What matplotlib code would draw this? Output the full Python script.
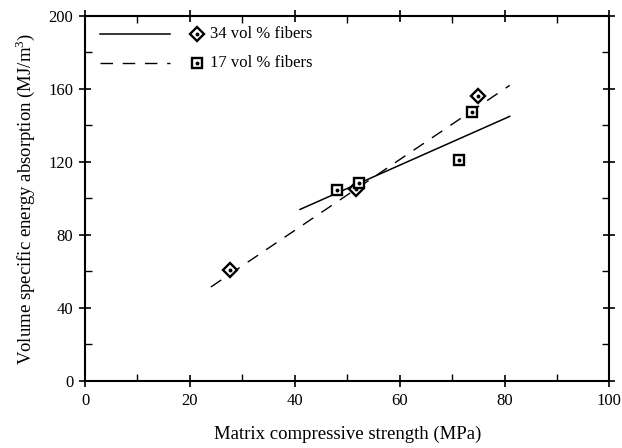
import matplotlib
matplotlib.use("Agg")
import matplotlib.pyplot as plt
from matplotlib.ticker import MultipleLocator

plt.rcParams['font.family'] = ['Liberation Serif', 'DejaVu Serif']
plt.rcParams['mathtext.fontset'] = 'custom'
plt.rcParams['mathtext.rm'] = 'Liberation Serif'

# 34 vol % fibers
x34 = [27.7, 51.7, 75.0]
y34 = [61.0, 105.0, 156.0]
# 17 vol % fibers
x17 = [48.1, 52.3, 71.3, 73.8]
y17 = [104.5, 108.5, 121.0, 147.5]

# fitted trend lines (endpoints)
fit34_x = [41.0, 81.0]
fit34_y = [94.0, 145.0]
fit17_x = [24.0, 81.0]
fit17_y = [51.5, 162.0]

labels = ['34 vol % fibers', '17 vol % fibers']

fig = plt.figure(figsize=(6.22, 4.48), dpi=100)
ax = fig.add_axes([0.1367, 0.1496, 0.843, 0.8147])

ax.plot(fit34_x, fit34_y, color='black', lw=1.1)
ax.plot(fit17_x, fit17_y, color='black', lw=1.0, dashes=(9, 7))


def open_marker(xs, ys, mk, ms, **kw):
    ax.plot(xs, ys, linestyle='none', marker=mk, ms=ms, mfc='white',
            mec='black', mew=1.7, zorder=3, **kw)
    ax.plot(xs, ys, linestyle='none', marker='o', ms=1.8, color='black',
            zorder=4, **kw)


open_marker(x34, y34, 'D', 6.8)
open_marker(x17, y17, 's', 6.8)

ax.set_xlim(0, 100)
ax.set_ylim(0, 200)
ax.xaxis.set_major_locator(MultipleLocator(20))
ax.xaxis.set_minor_locator(MultipleLocator(10))
ax.yaxis.set_major_locator(MultipleLocator(40))
ax.yaxis.set_minor_locator(MultipleLocator(20))
ax.tick_params(which='major', direction='inout', length=9, width=1.2,
               top=True, right=True, labelsize=12, pad=4)
ax.tick_params(which='minor', direction='in', length=5, width=1.0,
               top=True, right=True)
for s in ax.spines.values():
    s.set_linewidth(1.5)

ax.set_xlabel('Matrix compressive strength (MPa)', fontsize=13.5, labelpad=12)
ax.set_ylabel('Volume specific energy absorption (MJ/m$^3$)', fontsize=13.5,
              labelpad=8)

# legend: line sample, marker and label on each row
tr = ax.get_yaxis_transform()
rows = [(190, 'D', dict(color='black', lw=1.1)),
        (174, 's', dict(color='black', lw=1.0, dashes=(9, 7)))]
for (yy, mk, style), txt in zip(rows, labels):
    ax.plot([0.028, 0.162], [yy, yy], transform=tr, **style)
    open_marker([21.3], [yy], mk, 6.8)
    ax.text(23.8, yy, txt, fontsize=12, va='center', ha='left')

fig.savefig('out.png', dpi=100)
